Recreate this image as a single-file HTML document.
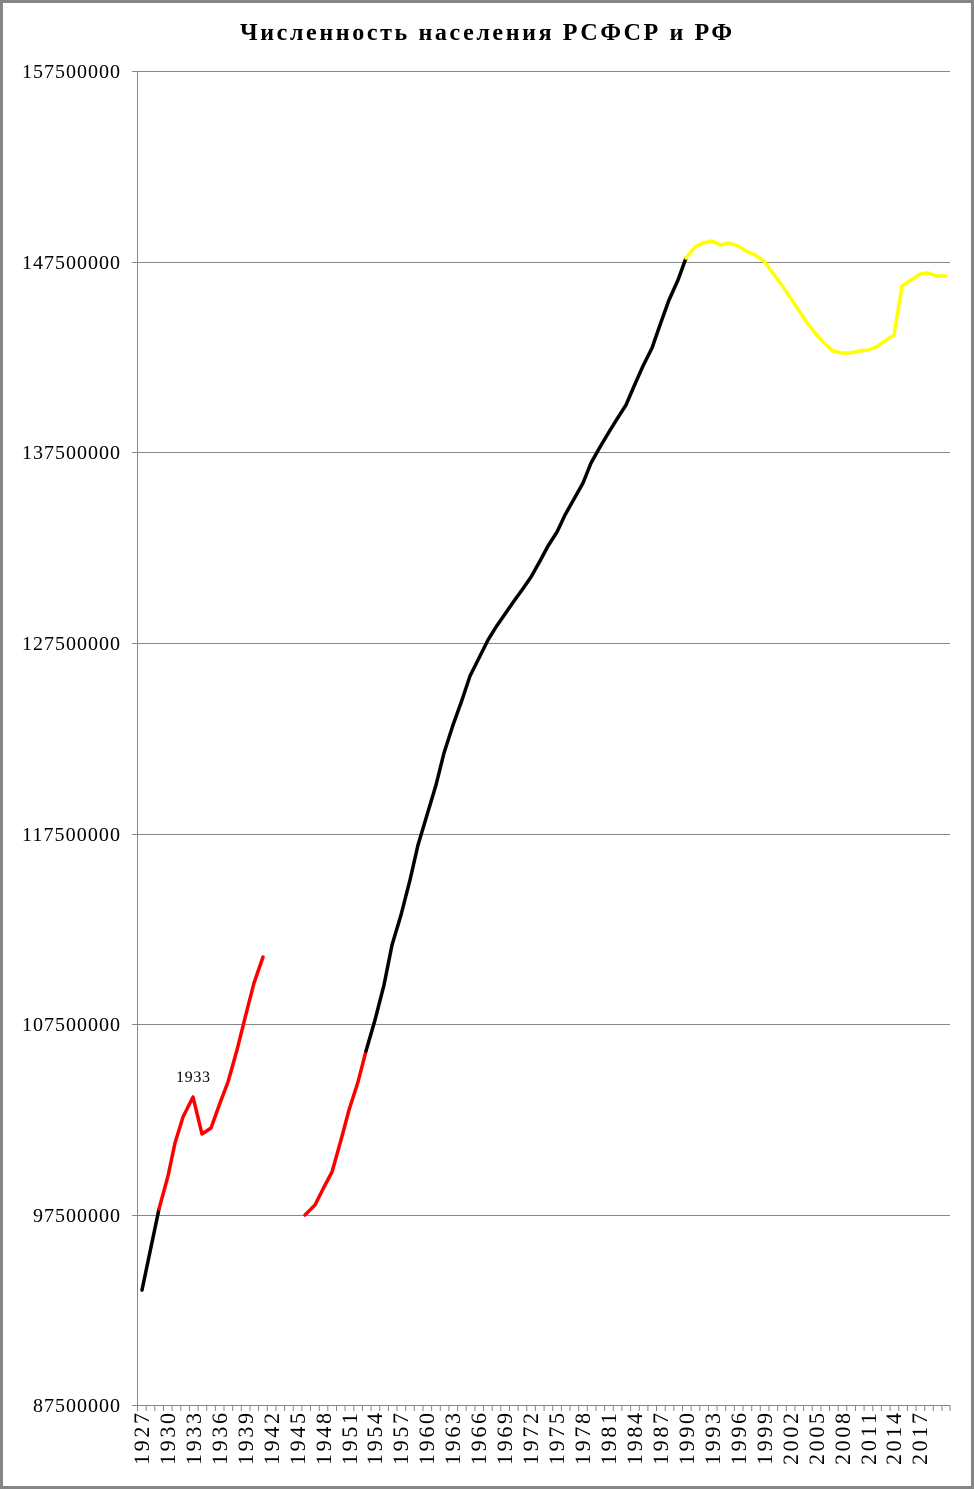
<!DOCTYPE html>
<html><head><meta charset="utf-8"><style>
html,body{margin:0;padding:0;background:#fff}
svg{display:block}
</style></head><body>
<svg width="974" height="1489" xmlns="http://www.w3.org/2000/svg" font-family="Liberation Serif, serif">
<rect x="1.5" y="1.5" width="971" height="1486" fill="#fff" stroke="#868686" stroke-width="3"/>
<text x="486" y="40" text-anchor="middle" font-size="24" font-weight="bold" textLength="492" lengthAdjust="spacing">Численность населения РСФСР и РФ</text>
<g stroke="#868686" stroke-width="1">
<line x1="137" y1="71.5" x2="950" y2="71.5"/>
<line x1="137" y1="262.5" x2="950" y2="262.5"/>
<line x1="137" y1="452.5" x2="950" y2="452.5"/>
<line x1="137" y1="643.5" x2="950" y2="643.5"/>
<line x1="137" y1="834.5" x2="950" y2="834.5"/>
<line x1="137" y1="1024.5" x2="950" y2="1024.5"/>
<line x1="137" y1="1215.5" x2="950" y2="1215.5"/>
<line x1="132" y1="1405.5" x2="950" y2="1405.5"/>
<line x1="137.5" y1="71" x2="137.5" y2="1405"/>
<line x1="132" y1="71.5" x2="137" y2="71.5"/>
<line x1="132" y1="262.5" x2="137" y2="262.5"/>
<line x1="132" y1="452.5" x2="137" y2="452.5"/>
<line x1="132" y1="643.5" x2="137" y2="643.5"/>
<line x1="132" y1="834.5" x2="137" y2="834.5"/>
<line x1="132" y1="1024.5" x2="137" y2="1024.5"/>
<line x1="132" y1="1215.5" x2="137" y2="1215.5"/>
</g>
<path stroke="#868686" stroke-width="1" fill="none" d="M137.5 1405v6M146.2 1405v6M154.8 1405v6M163.5 1405v6M172.1 1405v6M180.8 1405v6M189.4 1405v6M198.1 1405v6M206.7 1405v6M215.4 1405v6M224 1405v6M232.7 1405v6M241.3 1405v6M250 1405v6M258.6 1405v6M267.3 1405v6M275.9 1405v6M284.6 1405v6M293.2 1405v6M301.9 1405v6M310.5 1405v6M319.2 1405v6M327.8 1405v6M336.5 1405v6M345.1 1405v6M353.8 1405v6M362.4 1405v6M371.1 1405v6M379.7 1405v6M388.4 1405v6M397 1405v6M405.7 1405v6M414.3 1405v6M423 1405v6M431.6 1405v6M440.3 1405v6M448.9 1405v6M457.6 1405v6M466.2 1405v6M474.9 1405v6M483.5 1405v6M492.2 1405v6M500.8 1405v6M509.5 1405v6M518.1 1405v6M526.8 1405v6M535.4 1405v6M544.1 1405v6M552.7 1405v6M561.4 1405v6M570 1405v6M578.7 1405v6M587.3 1405v6M596 1405v6M604.6 1405v6M613.3 1405v6M621.9 1405v6M630.6 1405v6M639.2 1405v6M647.9 1405v6M656.5 1405v6M665.2 1405v6M673.8 1405v6M682.5 1405v6M691.1 1405v6M699.8 1405v6M708.4 1405v6M717.1 1405v6M725.7 1405v6M734.4 1405v6M743 1405v6M751.7 1405v6M760.3 1405v6M769 1405v6M777.6 1405v6M786.3 1405v6M794.9 1405v6M803.6 1405v6M812.2 1405v6M820.9 1405v6M829.5 1405v6M838.2 1405v6M846.8 1405v6M855.5 1405v6M864.1 1405v6M872.8 1405v6M881.4 1405v6M890.1 1405v6M898.7 1405v6M907.4 1405v6M916 1405v6M924.7 1405v6M933.3 1405v6M942 1405v6M950 1405v6"/>
<g font-size="20">
<text x="22" y="78" textLength="98">157500000</text>
<text x="22" y="269" textLength="98">147500000</text>
<text x="22" y="459" textLength="98">137500000</text>
<text x="22" y="650" textLength="98">127500000</text>
<text x="22" y="841" textLength="98">117500000</text>
<text x="22" y="1031" textLength="98">107500000</text>
<text x="33" y="1222" textLength="87">97500000</text>
<text x="33" y="1412" textLength="87">87500000</text>
</g>
<g font-size="22">
<text transform="translate(149,1465) rotate(-90)" textLength="52">1927</text>
<text transform="translate(175,1465) rotate(-90)" textLength="52">1930</text>
<text transform="translate(201,1465) rotate(-90)" textLength="52">1933</text>
<text transform="translate(227,1465) rotate(-90)" textLength="52">1936</text>
<text transform="translate(253,1465) rotate(-90)" textLength="52">1939</text>
<text transform="translate(279,1465) rotate(-90)" textLength="52">1942</text>
<text transform="translate(305,1465) rotate(-90)" textLength="52">1945</text>
<text transform="translate(331,1465) rotate(-90)" textLength="52">1948</text>
<text transform="translate(357,1465) rotate(-90)" textLength="52">1951</text>
<text transform="translate(382,1465) rotate(-90)" textLength="52">1954</text>
<text transform="translate(408,1465) rotate(-90)" textLength="52">1957</text>
<text transform="translate(434,1465) rotate(-90)" textLength="52">1960</text>
<text transform="translate(460,1465) rotate(-90)" textLength="52">1963</text>
<text transform="translate(486,1465) rotate(-90)" textLength="52">1966</text>
<text transform="translate(512,1465) rotate(-90)" textLength="52">1969</text>
<text transform="translate(538,1465) rotate(-90)" textLength="52">1972</text>
<text transform="translate(564,1465) rotate(-90)" textLength="52">1975</text>
<text transform="translate(590,1465) rotate(-90)" textLength="52">1978</text>
<text transform="translate(616,1465) rotate(-90)" textLength="52">1981</text>
<text transform="translate(642,1465) rotate(-90)" textLength="52">1984</text>
<text transform="translate(668,1465) rotate(-90)" textLength="52">1987</text>
<text transform="translate(694,1465) rotate(-90)" textLength="52">1990</text>
<text transform="translate(720,1465) rotate(-90)" textLength="52">1993</text>
<text transform="translate(746,1465) rotate(-90)" textLength="52">1996</text>
<text transform="translate(772,1465) rotate(-90)" textLength="52">1999</text>
<text transform="translate(798,1465) rotate(-90)" textLength="52">2002</text>
<text transform="translate(824,1465) rotate(-90)" textLength="52">2005</text>
<text transform="translate(850,1465) rotate(-90)" textLength="52">2008</text>
<text transform="translate(876,1465) rotate(-90)" textLength="52">2011</text>
<text transform="translate(901,1465) rotate(-90)" textLength="52">2014</text>
<text transform="translate(927,1465) rotate(-90)" textLength="52">2017</text>
</g>
<text x="176" y="1082" font-size="16" textLength="34">1933</text>
<g fill="none" stroke-width="3.5" stroke-linejoin="round" stroke-linecap="round">
<polyline stroke="#000" points="142,1290 159,1209"/>
<polyline stroke="#ff0000" points="159,1209 168,1176 175,1143 183,1117 193,1097 202,1134 211,1128 220,1103 228,1082 237,1050 245,1018 254,983 263,957"/>
<polyline stroke="#ff0000" points="305,1215 315,1205 323,1189 332,1172 341,1140 349,1110 358,1082 366,1051"/>
<polyline stroke="#000" points="366,1051 375,1020 384,985 392,945 401,915 410,880 418,845 427,815 436,785 444,753 453,725 462,700 470,676 479,658 488,640 496,627 505,614 514,601 522,590 531,577 540,561 548,546 557,532 565,515 574,499 583,483 591,463 600,447 609,432 617,419 626,405 635,384 643,366 652,348 660,325 669,300 678,280 686,258"/>
<polyline stroke="#ffff00" points="686,258 695,247 703,243 712,241 721,245 729,243 738,246 746,251 755,255 764,261 772,272 781,284 790,297 798,309 807,323 816,334 824,343 833,351 842,353 850,353 859,351 868,350 876,347 885,341 894,335 902,286 911,280 920,274 928,273 937,276 946,276"/>
</g>
</svg>
</body></html>
